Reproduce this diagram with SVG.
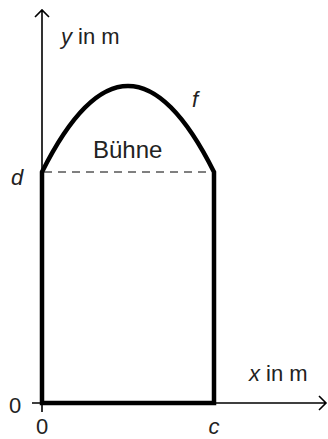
<svg xmlns="http://www.w3.org/2000/svg" width="328" height="439" viewBox="0 0 328 439">
<style>
.t{font-family:"Liberation Sans",Arial,sans-serif;fill:#222;font-size:22px}
.i{font-style:italic}
.ax{stroke:#000;stroke-width:1.6;fill:none}
.thick{stroke:#000;stroke-width:4.5;fill:none;stroke-linejoin:miter}
.dash{stroke:#000;stroke-width:1;stroke-dasharray:8,6;fill:none}
</style>
<rect width="328" height="439" fill="#fff"/>
<g id="axes">
<path class="ax" d="M32,403 H326 M319,396 L326,403 L319,410"/>
<path class="ax" d="M42,412 V10 M35,17 L42,10 L49,17"/>
</g>
<g id="stage">
<path class="dash" d="M44,172 H212"/>
<path class="thick" d="M42,403 V172 Q128,0 214,172 V403 Z"/>
</g>
<g id="labels">
<text class="t" x="61" y="44"><tspan class="i">y</tspan> in m</text>
<text class="t" x="249" y="381"><tspan class="i">x</tspan> in m</text>
<text class="t" x="93" y="158" style="font-size:24px">Bühne</text>
<text class="t i" x="11" y="185">d</text>
<text class="t i" x="192" y="107">f</text>
<text class="t" x="9" y="413">0</text>
<text class="t" x="42" y="434" text-anchor="middle">0</text>
<text class="t i" x="214" y="434" text-anchor="middle">c</text>
</g>
</svg>
